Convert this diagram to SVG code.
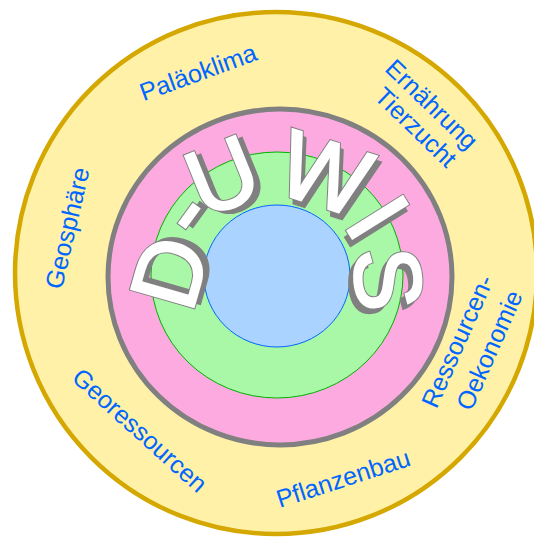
<svg xmlns="http://www.w3.org/2000/svg" width="534" height="544" viewBox="0 0 534 544">
<style>
.lbl{font-family:"Liberation Sans",Arial,sans-serif;font-size:25px;fill:#0066ff;text-anchor:middle;dominant-baseline:central}
.big{font-family:"Liberation Sans",Arial,sans-serif;font-size:94px;text-anchor:middle;dominant-baseline:central;stroke-linejoin:miter}
.sh{fill:#808080;stroke:#808080;stroke-width:3.5}
.ol{fill:#808080;stroke:#808080;stroke-width:4.5}
.fg{fill:#ffffff;stroke:#ffffff;stroke-width:2.5}
</style>
<g id="ring-outer"><circle cx="276" cy="273" r="261" fill="#fff1a8" stroke="#d4a800" stroke-width="4.5"/></g>
<g id="ring-pink"><ellipse cx="280" cy="277" rx="172" ry="168" fill="#fcaadf" stroke="#808080" stroke-width="5"/></g>
<g id="ring-green"><ellipse cx="277" cy="275" rx="126" ry="123" fill="#a8f8a8" stroke="#00b000" stroke-width="1"/></g>
<g id="core-blue"><ellipse cx="277" cy="276" rx="73" ry="71" fill="#aad4ff" stroke="#0066ff" stroke-width="1"/></g>
<g id="title">
<g transform="translate(172,271) rotate(-74)"><text class="big sh" x="3" y="3">D</text><text class="big ol" x="-2" y="-2">D</text><text class="big fg" x="-2" y="-2">D</text></g>
<g transform="translate(186,211) rotate(-54)"><text class="big sh" x="3" y="3">-</text><text class="big ol" x="-2" y="-2">-</text><text class="big fg" x="-2" y="-2">-</text></g>
<g transform="translate(225,177) rotate(-22)"><text class="big sh" x="3" y="3">U</text><text class="big ol" x="-2" y="-2">U</text><text class="big fg" x="-2" y="-2">U</text></g>
<g transform="translate(326,176) rotate(18)"><text class="big sh" x="3" y="3">W</text><text class="big ol" x="-2" y="-2">W</text><text class="big fg" x="-2" y="-2">W</text></g>
<g transform="translate(377,220) rotate(58)"><text class="big sh" x="3" y="3">I</text><text class="big ol" x="-2" y="-2">I</text><text class="big fg" x="-2" y="-2">I</text></g>
<g transform="translate(386,281) rotate(85)"><text class="big sh" x="3" y="3">S</text><text class="big ol" x="-2" y="-2">S</text><text class="big fg" x="-2" y="-2">S</text></g>
</g>
<g id="labels">
<g id="palaeoklima"><text class="lbl" transform="translate(198,72) rotate(-20)">Paläoklima</text></g>
<g id="ernaehrung"><text class="lbl" transform="translate(432,104) rotate(44)">Ernährung</text><text class="lbl" transform="translate(416,127) rotate(44)">Tierzucht</text></g>
<g id="geosphaere"><text class="lbl" transform="translate(67,228) rotate(-77)">Geosphäre</text></g>
<g id="georessourcen"><text class="lbl" transform="translate(140,430) rotate(42)">Georessourcen</text></g>
<g id="pflanzenbau"><text class="lbl" transform="translate(343,478) rotate(-18)">Pflanzenbau</text></g>
<g id="ressourcen"><text class="lbl" transform="translate(457,341) rotate(-66)">Ressourcen-</text><text class="lbl" transform="translate(489,350) rotate(-66)">Oekonomie</text></g>
</g>
</svg>
